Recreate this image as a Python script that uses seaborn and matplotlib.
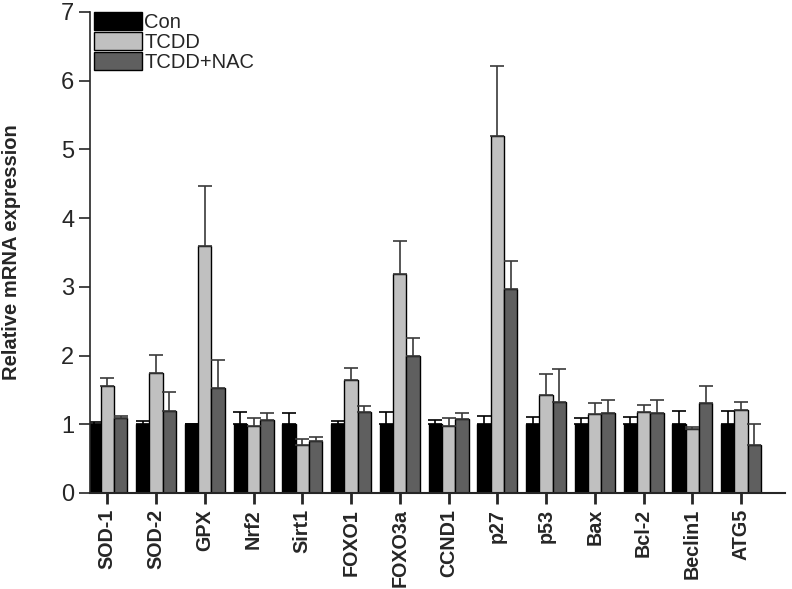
import numpy as np
import pandas as pd
import matplotlib
matplotlib.use("Agg")
import matplotlib.pyplot as plt
import seaborn as sns

sns.set_style("white")
plt.rcParams['font.family'] = ['Liberation Sans', 'DejaVu Sans']

## data ##
genes = ["SOD-1", "SOD-2", "GPX", "Nrf2", "Sirt1", "FOXO1", "FOXO3a",
         "CCND1", "p27", "p53", "Bax", "Bcl-2", "Beclin1", "ATG5"]
groups = ["Con", "TCDD", "TCDD+NAC"]

con_mean = [1.0, 1.0, 1.0, 1.0, 1.0, 1.0, 1.0, 1.0, 1.0, 1.0, 1.0, 1.0, 1.0, 1.0]
con_err = [0.03, 0.05, 0.01, 0.18, 0.16, 0.04, 0.18, 0.06, 0.12, 0.11, 0.09, 0.10, 0.19, 0.19]
tcdd_mean = [1.56, 1.75, 3.60, 0.97, 0.70, 1.65, 3.18, 0.98, 5.20, 1.43, 1.15, 1.18, 0.93, 1.21]
tcdd_err = [0.12, 0.26, 0.87, 0.12, 0.09, 0.17, 0.48, 0.11, 1.01, 0.30, 0.16, 0.10, 0.03, 0.11]
nac_mean = [1.09, 1.19, 1.53, 1.06, 0.76, 1.18, 1.99, 1.07, 2.97, 1.33, 1.16, 1.17, 1.31, 0.70]
nac_err = [0.03, 0.28, 0.40, 0.11, 0.06, 0.09, 0.26, 0.09, 0.41, 0.48, 0.20, 0.18, 0.24, 0.30]

colors = ["#000000", "#c0c0c0", "#5f5f5f"]
err_colors = ["#000000", "#3a3a3a", "#3a3a3a"]

df = pd.DataFrame({
    "Gene": genes * 3,
    "Group": [g for g in groups for _ in genes],
    "Mean": con_mean + tcdd_mean + nac_mean,
    "Err": con_err + tcdd_err + nac_err,
})

fig = plt.figure(figsize=(7.92, 5.89), dpi=100)
ax = fig.add_axes([0.114, 0.163, 0.877, 0.817])
sns.barplot(data=df, x="Gene", y="Mean", hue="Group", order=genes,
            hue_order=groups, palette=colors, errorbar=None,
            width=0.82, edgecolor="black", linewidth=1.0, ax=ax)

# upper-only error bars at the bar positions
for i, grp in enumerate(groups):
    sub = df[df["Group"] == grp].set_index("Gene").loc[genes]
    cont = ax.containers[i]
    xs = [p.get_x() + p.get_width() / 2 for p in cont.patches]
    ax.errorbar(xs, sub["Mean"], yerr=[np.zeros(len(genes)), sub["Err"]],
                fmt="none", ecolor=err_colors[i], elinewidth=1.2,
                capsize=5, capthick=1.2, zorder=1)

ax.set_ylim(0, 7)
ax.set_xlim(-0.35, 13.9)
ax.set_yticks(range(0, 8))
ax.set_xlabel("")
ax.set_ylabel("Relative mRNA expression", fontsize=14.5, fontweight="bold")
ax.yaxis.set_label_coords(-0.100, 0.5)
ax.tick_params(axis="y", labelsize=17, direction="out", length=8, width=1.2, left=True)
ax.tick_params(axis="x", labelsize=14.2, direction="out", length=8, width=2, bottom=True)
plt.setp(ax.get_xticklabels(), rotation=90, fontweight="bold")
sns.despine(ax=ax, top=True, right=True)
ax.spines["left"].set_linewidth(1.2)
ax.spines["bottom"].set_linewidth(1.5)

leg = ax.legend(loc="upper left", bbox_to_anchor=(-0.012, 1.025), frameon=False,
                fontsize=14.5, handlelength=2.4, handleheight=1.0,
                handletextpad=0.1, labelspacing=0.02, borderaxespad=0.2)

fig.savefig("out.png", dpi=100)
